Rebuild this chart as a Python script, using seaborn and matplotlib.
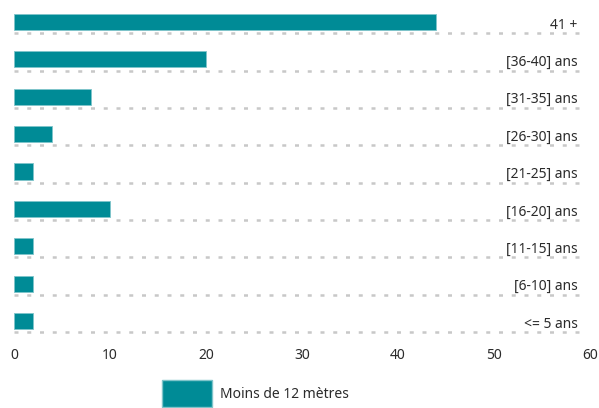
import pandas as pd
import matplotlib
matplotlib.use("Agg")
import matplotlib.pyplot as plt
import seaborn as sns
from matplotlib.patches import Patch

# données
categories = ['41 +', '[36-40] ans', '[31-35] ans', '[26-30] ans', '[21-25] ans',
              '[16-20] ans', '[11-15] ans', '[6-10] ans', '<= 5 ans']
valeurs = [44, 20, 8, 4, 2, 10, 2, 2, 2]
serie = 'Moins de 12 mètres'
x_ticks = [0, 10, 20, 30, 40, 50, 60]

couleur = '#008b96'

sns.set_theme(style='white')
plt.rcParams['font.family'] = ['Noto Sans', 'DejaVu Sans']

df = pd.DataFrame({'cat': categories, 'val': valeurs})

fig = plt.figure(figsize=(5.99, 4.08), dpi=100)
ax = fig.add_axes([14 / 599, 0.1674, 576 / 599, 0.8245])

sns.barplot(data=df, x='val', y='cat', order=categories, color=couleur,
            saturation=1, width=0.43, edgecolor='#7fc4ca', linewidth=0.6, ax=ax)

# lignes pointillées sous chaque barre
for i, cat in enumerate(categories):
    ax.plot([0, 59.1], [i + 0.3, i + 0.3], color='#c8c8c8', lw=1.8,
            dashes=(1.6, 3.5), zorder=0)
    ax.text(58.7, i + 0.03, cat, ha='right', va='center_baseline',
            fontsize=10, color='#2b2b2b')

ax.set_xlim(0, 60)
ax.set_ylim(len(categories) - 0.5, -0.5)
ax.set_xticks(x_ticks)
ax.set_yticks([])
ax.set_xlabel('')
ax.set_ylabel('')
ax.tick_params(axis='x', length=0, pad=6, labelsize=10, colors='#2b2b2b')
sns.despine(ax=ax, left=True, bottom=True)

fig.legend(handles=[Patch(facecolor=couleur, edgecolor='#7fc4ca', label=serie)],
           loc='upper left', bbox_to_anchor=(162 / 599, 28 / 408), frameon=False,
           borderpad=0, borderaxespad=0, handlelength=3.6, handleheight=2.6,
           handletextpad=0.6, fontsize=10, labelcolor='#2b2b2b')

fig.savefig('out.png', dpi=100)
